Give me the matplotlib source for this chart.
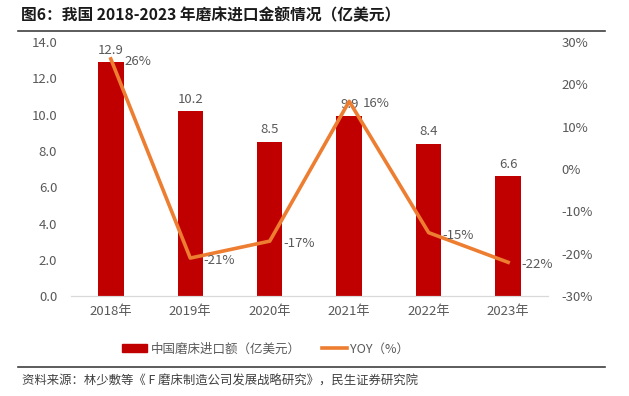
import numpy as np
import matplotlib.pyplot as plt
from matplotlib.lines import Line2D

plt.rcParams['font.family'] = ['Noto Sans CJK SC', 'DejaVu Sans']

years = ['2018年', '2019年', '2020年', '2021年', '2022年', '2023年']
imports = [12.9, 10.2, 8.5, 9.9, 8.4, 6.6]
yoy = [26, -21, -17, 16, -15, -22]
yoy_labels = ['26%', '-21%', '-17%', '16%', '-15%', '-22%']

gray = '#595959'
fig = plt.figure(figsize=(6.29, 3.96), dpi=100)
ax1 = fig.add_axes([0.113, 0.252, 0.758, 0.642])
ax2 = ax1.twinx()

x = np.arange(len(years))
ax1.bar(x, imports, width=0.32, color='#C00000', zorder=2)
for xi, v in zip(x, imports):
    ax1.text(xi, v + 0.3, f'{v:.1f}', ha='center', va='bottom', fontsize=9.5, color=gray)

ax2.plot(x, yoy, color='#ED7D31', lw=2.6, zorder=3)
for xi, v, s in zip(x, yoy, yoy_labels):
    ax2.text(xi + 0.17, v - 0.6, s, ha='left', va='center', fontsize=9.5, color=gray)

ax1.set_ylim(0, 14)
ax1.set_yticks(np.arange(0, 14.1, 2))
ax1.set_yticklabels([f'{v:.1f}' for v in np.arange(0, 14.1, 2)])
ax2.set_ylim(-30, 30)
ax2.set_yticks(range(-30, 31, 10))
ax2.set_yticklabels([f'{v}%' for v in range(-30, 31, 10)])
ax1.set_xlim(-0.5, 5.5)
ax1.set_xticks(x)
ax1.set_xticklabels(years)

for ax in (ax1, ax2):
    for s in ['top', 'left', 'right']:
        ax.spines[s].set_visible(False)
    ax.spines['bottom'].set_color('#D9D9D9')
    ax.tick_params(length=0, labelsize=9.5, labelcolor=gray, pad=10)
ax1.tick_params(axis='x', pad=6)

handles = [plt.Rectangle((0, 0), 1, 1, color='#C00000'),
           Line2D([0], [0], color='#ED7D31', lw=2.6)]
fig.legend(handles, ['中国磨床进口额（亿美元）', 'YOY（%）'], loc='center',
           bbox_to_anchor=(0.422, 0.119), ncol=2, frameon=False, fontsize=9,
           labelcolor=gray, handlelength=2.0, handleheight=0.6, columnspacing=1.7,
           handletextpad=0.3)

fig.text(0.033, 0.96, '图6：我国 2018-2023 年磨床进口金额情况（亿美元）', fontsize=11.3,
         fontweight='bold', color='#1a1a1a', va='center')
fig.add_artist(Line2D([0.029, 0.962], [0.922, 0.922], color='#404040', lw=1.2))
fig.add_artist(Line2D([0.029, 0.962], [0.074, 0.074], color='#404040', lw=1.2))
fig.text(0.035, 0.038, '资料来源：林少敷等《 F 磨床制造公司发展战略研究》，民生证券研究院',
         fontsize=8.9, color='#404040', va='center')

plt.savefig('out.png', dpi=100)
